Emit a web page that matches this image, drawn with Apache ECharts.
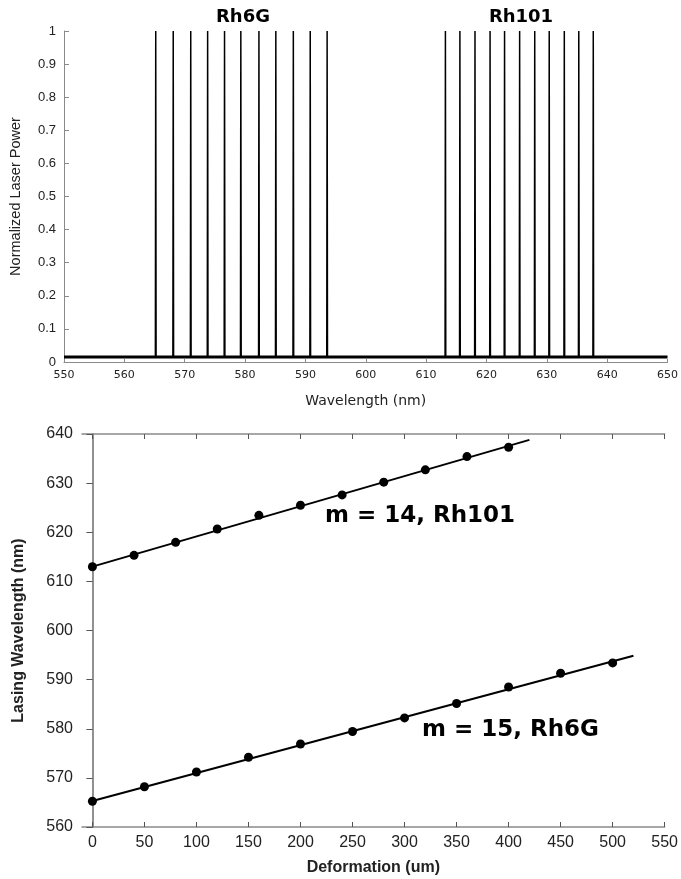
<!DOCTYPE html>
<html>
<head>
<meta charset="utf-8">
<script src="https://cdn.jsdelivr.net/npm/echarts@6/dist/echarts.min.js"></script>
<style>
  html, body { margin: 0; padding: 0; background: #fff; }
  #chart { width: 681px; height: 879px; }
</style>
</head>
<body>
<div id="chart"></div>
<script>
// --- data ---
// top: lasing peak positions (nm), normalized to 1, on a flat background
var rh6gPeaks = [565.2, 568.1, 571.0, 573.8, 576.6, 579.3, 582.3, 585.1, 588.0, 590.8, 593.6];
var rh101Peaks = [613.2, 615.6, 618.1, 620.6, 623.0, 625.5, 628.0, 630.4, 632.9, 635.3, 637.7];
var peakHeight = 1;
var baseLevel = 0.015;
var spectrumRange = [550, 650];

// bottom: lasing wavelength vs deformation
var rh6gDeform = [0, 50, 100, 150, 200, 250, 300, 350, 400, 450, 500];
var rh6gWave = [565.25, 568.2, 571.2, 574.2, 576.9, 579.45, 582.2, 585.15, 588.5, 591.3, 593.4];
var rh101Deform = [0, 40, 80, 120, 160, 200, 240, 280, 320, 360, 400];
var rh101Wave = [612.97, 615.3, 617.94, 620.65, 623.44, 625.5, 627.6, 630.2, 632.7, 635.4, 637.3];
// fitted lines: [deformation, wavelength] end points
var rh6gFit = [[0, 565.3], [520, 594.85]];
var rh101Fit = [[0, 613.0], [420, 638.8]];

var deformTicks = [0, 50, 100, 150, 200, 250, 300, 350, 400, 450, 500, 550];

function peakLine(peaks) {
  var pts = [];
  peaks.forEach(function(p) {
    pts.push([p - 0.06, baseLevel], [p, peakHeight], [p + 0.06, baseLevel]);
  });
  return pts;
}
function pairs(xs, ys) {
  return xs.map(function(x, i) { return [x, ys[i]]; });
}

var axisGray = '#8a8a8a';
var ink = '#222';

var chart = echarts.init(document.getElementById('chart'), null, { renderer: 'canvas' });
chart.setOption({
  animation: false,
  grid: [
    { left: 63, top: 31, right: 11, bottom: 517 },
    { left: 82, top: 434, right: 15, bottom: 52 }
  ],
  xAxis: [
    {
      gridIndex: 0, type: 'value', min: 550, max: 650, interval: 10,
      name: 'Wavelength (nm)', nameLocation: 'middle', nameGap: 32,
      nameTextStyle: { fontFamily: 'DejaVu Sans', fontSize: 14, color: ink },
      axisLine: { lineStyle: { color: axisGray, width: 1 } },
      axisTick: { inside: true, length: 3, lineStyle: { color: axisGray } },
      axisLabel: { fontFamily: 'DejaVu Sans', fontSize: 11, color: ink, margin: 8 },
      splitLine: { show: false }
    },
    {
      gridIndex: 1, type: 'value', min: -10, max: 550,
      name: 'Deformation (um)', nameLocation: 'middle', nameGap: 33,
      nameTextStyle: { fontFamily: 'Liberation Sans', fontSize: 16, fontWeight: 'bold', color: ink },
      axisLine: { lineStyle: { color: axisGray, width: 1.5 } },
      axisTick: { inside: true, length: 5, customValues: deformTicks, lineStyle: { color: '#555' } },
      axisLabel: { fontFamily: 'Liberation Sans', fontSize: 16, color: ink, margin: 8, customValues: deformTicks },
      splitLine: { show: false }
    },
    {
      gridIndex: 1, type: 'value', min: -10, max: 550, position: 'top',
      axisLine: { lineStyle: { color: axisGray, width: 1.5 } },
      axisTick: { inside: true, length: 5, customValues: deformTicks, lineStyle: { color: '#555' } },
      axisLabel: { show: false, customValues: deformTicks },
      splitLine: { show: false }
    }
  ],
  yAxis: [
    {
      gridIndex: 0, type: 'value', min: 0, max: 1, interval: 0.1,
      name: 'Normalized Laser Power', nameLocation: 'middle', nameGap: 41,
      nameTextStyle: { fontFamily: 'Liberation Sans', fontSize: 14.5, color: ink },
      axisLine: { show: true, lineStyle: { color: axisGray, width: 1 } },
      axisTick: { show: true, inside: true, length: 5, lineStyle: { color: axisGray } },
      axisLabel: { fontFamily: 'Liberation Sans', fontSize: 13, color: ink, margin: 8 },
      splitLine: { show: false }
    },
    {
      gridIndex: 1, type: 'value', min: 560, max: 640, interval: 10,
      name: 'Lasing Wavelength (nm)', nameLocation: 'middle', nameGap: 55,
      nameTextStyle: { fontFamily: 'Liberation Sans', fontSize: 16, fontWeight: 'bold', color: ink },
      axisLine: { show: true, lineStyle: { color: axisGray, width: 1.5 } },
      axisTick: { show: true, length: 4, lineStyle: { color: '#555' } },
      axisLabel: { fontFamily: 'Liberation Sans', fontSize: 16, color: ink, margin: 9 },
      splitLine: { show: false }
    },
    {
      gridIndex: 1, type: 'value', min: 560, max: 640, interval: 10, position: 'right',
      axisLine: { show: true, lineStyle: { color: axisGray, width: 1.5 } },
      axisTick: { show: true, inside: true, length: 6, lineStyle: { color: '#555' } },
      axisLabel: { show: false },
      splitLine: { show: false }
    }
  ],
  series: [
    {
      type: 'line', xAxisIndex: 0, yAxisIndex: 0, symbol: 'none',
      data: [[spectrumRange[0], baseLevel], [spectrumRange[1], baseLevel]],
      lineStyle: { color: '#000', width: 3 }
    },
    {
      type: 'line', xAxisIndex: 0, yAxisIndex: 0, symbol: 'none',
      data: peakLine(rh6gPeaks),
      lineStyle: { color: '#000', width: 1.5 }
    },
    {
      type: 'line', xAxisIndex: 0, yAxisIndex: 0, symbol: 'none',
      data: peakLine(rh101Peaks),
      lineStyle: { color: '#000', width: 1.5 }
    },
    {
      type: 'line', xAxisIndex: 1, yAxisIndex: 1, symbol: 'none',
      data: rh101Fit, lineStyle: { color: '#000', width: 2 }
    },
    {
      type: 'line', xAxisIndex: 1, yAxisIndex: 1, symbol: 'none',
      data: rh6gFit, lineStyle: { color: '#000', width: 2 }
    },
    {
      type: 'scatter', xAxisIndex: 1, yAxisIndex: 1, symbolSize: 9,
      data: pairs(rh101Deform, rh101Wave), itemStyle: { color: '#000', opacity: 1 }
    },
    {
      type: 'scatter', xAxisIndex: 1, yAxisIndex: 1, symbolSize: 9,
      data: pairs(rh6gDeform, rh6gWave), itemStyle: { color: '#000', opacity: 1 }
    }
  ],
  graphic: [
    { type: 'text', x: 243, y: 17, style: { text: 'Rh6G', fill: '#000', font: 'bold 18px "DejaVu Sans"', align: 'center', verticalAlign: 'middle' } },
    { type: 'text', x: 521, y: 17, style: { text: 'Rh101', fill: '#000', font: 'bold 18px "DejaVu Sans"', align: 'center', verticalAlign: 'middle' } },
    { type: 'text', x: 325, y: 516, style: { text: 'm = 14, Rh101', fill: '#000', font: 'bold 23px "DejaVu Sans"', align: 'left', verticalAlign: 'middle' } },
    { type: 'text', x: 422, y: 730, style: { text: 'm = 15, Rh6G', fill: '#000', font: 'bold 23px "DejaVu Sans"', align: 'left', verticalAlign: 'middle' } }
  ]
});
</script>
</body>
</html>
